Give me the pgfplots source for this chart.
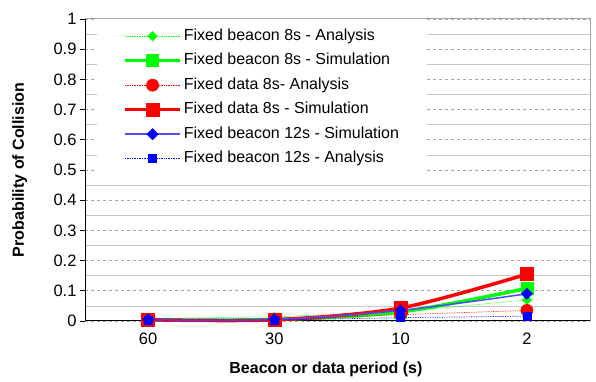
\documentclass[border=0pt]{standalone}
\usepackage{fontspec}
\setmainfont{Liberation Sans}
\usepackage{pgfplots}
\pgfplotsset{compat=1.18}
\definecolor{pgreen}{RGB}{0,255,0}
\definecolor{pred}{RGB}{255,0,0}
\definecolor{pblue}{RGB}{0,0,255}
\begin{document}
\begin{tikzpicture}
\path[use as bounding box] (0,0) rectangle (596pt,382pt);
\begin{axis}[
  at={(85pt,61pt)}, anchor=south west, scale only axis,
  width=505pt, height=302pt,
  xmin=-0.5, xmax=3.5, ymin=0, ymax=1,
  clip=false,
  axis x line*=bottom, axis y line*=left,
  axis line style={black, line width=1pt},
  xtick={0,1,2,3}, xticklabels={60,30,10,2},
  minor xtick={0.5,1.5,2.5},
  ytick={0,0.1,0.2,0.3,0.4,0.5,0.6,0.7,0.8,0.9,1},
  minor ytick={0.05,0.15,0.25,0.35,0.45,0.55,0.65,0.75,0.85,0.95},
  yticklabels={0,0.1,0.2,0.3,0.4,0.5,0.6,0.7,0.8,0.9,1},
  tick align=outside, major tick length=5pt, minor tick length=5pt,
  xtick style={draw=none},
  minor x tick style={black, line width=0.8pt},
  ytick style={black, line width=0.8pt},
  minor y tick style={draw=none},
  ymajorgrids, yminorgrids,
  major grid style={gray!70, dashed, line width=0.6pt},
  minor grid style={gray!45, line width=0.5pt},
  tick label style={font=\fontsize{16.5}{19}\selectfont},
  /pgf/number format/assume math mode=true,
  xticklabel style={yshift=-3pt},
  xlabel={\textbf{Beacon or data period (s)}},
  ylabel={\textbf{Probability of Collision}},
  label style={font=\fontsize{16}{19}\selectfont},
  xlabel style={at={(axis description cs:0.477,-0.159)}, anchor=center},
  ylabel style={at={(axis description cs:-0.129,0.5)}, anchor=center, rotate=0},
  legend image code/.code={\draw[mark repeat=2,mark phase=2,#1] plot coordinates {(0pt,0pt) (27.5pt,0pt) (55pt,0pt)};},
  legend style={at={(axis description cs:0.024,1)}, anchor=north west,
    draw=none, fill=white, font=\fontsize{16}{18}\selectfont,
    inner xsep=26pt, inner ysep=7pt, row sep=4.5pt,
    nodes={inner ysep=2pt, text height=12pt, text depth=4pt}},
  legend cell align=left,
]
\addplot[pgreen, line width=0.7pt, densely dotted, mark=square*, mark size=3.2pt, mark options={solid, rotate=45}]
  coordinates {(0,0.008) (1,0.014) (2,0.030) (3,0.070)};
\addlegendentry{Fixed beacon 8s - Analysis}
\addplot[pgreen, line width=3.5pt, smooth, mark=square*, mark size=6pt, mark options={solid, line width=0.5pt}]
  coordinates {(0,0.004) (1,0.005) (2,0.030) (3,0.108)};
\addlegendentry{Fixed beacon 8s - Simulation}
\addplot[pred, line width=0.7pt, densely dotted, mark=*, mark size=6pt, mark options={solid}]
  coordinates {(0,0.004) (1,0.004) (2,0.021) (3,0.035)};
\addlegendentry{Fixed data 8s- Analysis}
\addplot[pred, line width=3.5pt, smooth, mark=square*, mark size=6.5pt, mark options={solid, line width=0.5pt}]
  coordinates {(0,0.004) (1,0.004) (2,0.043) (3,0.155)};
\addlegendentry{Fixed data 8s - Simulation}
\addplot[pblue!70, line width=1.5pt, smooth, mark=square*, mark size=4pt, mark options={solid, pblue, line width=0.5pt, rotate=45}]
  coordinates {(0,0.004) (1,0.005) (2,0.035) (3,0.090)};
\addlegendentry{Fixed beacon 12s - Simulation}
\addplot[pblue, line width=0.7pt, densely dotted, mark=square*, mark size=4pt, mark options={solid}]
  coordinates {(0,0.003) (1,0.003) (2,0.011) (3,0.016)};
\addlegendentry{Fixed beacon 12s - Analysis}
\draw[gray!70, line width=1pt] (rel axis cs:0,1) -- (rel axis cs:1,1) -- (rel axis cs:1,0);
\end{axis}
\end{tikzpicture}
\end{document}
